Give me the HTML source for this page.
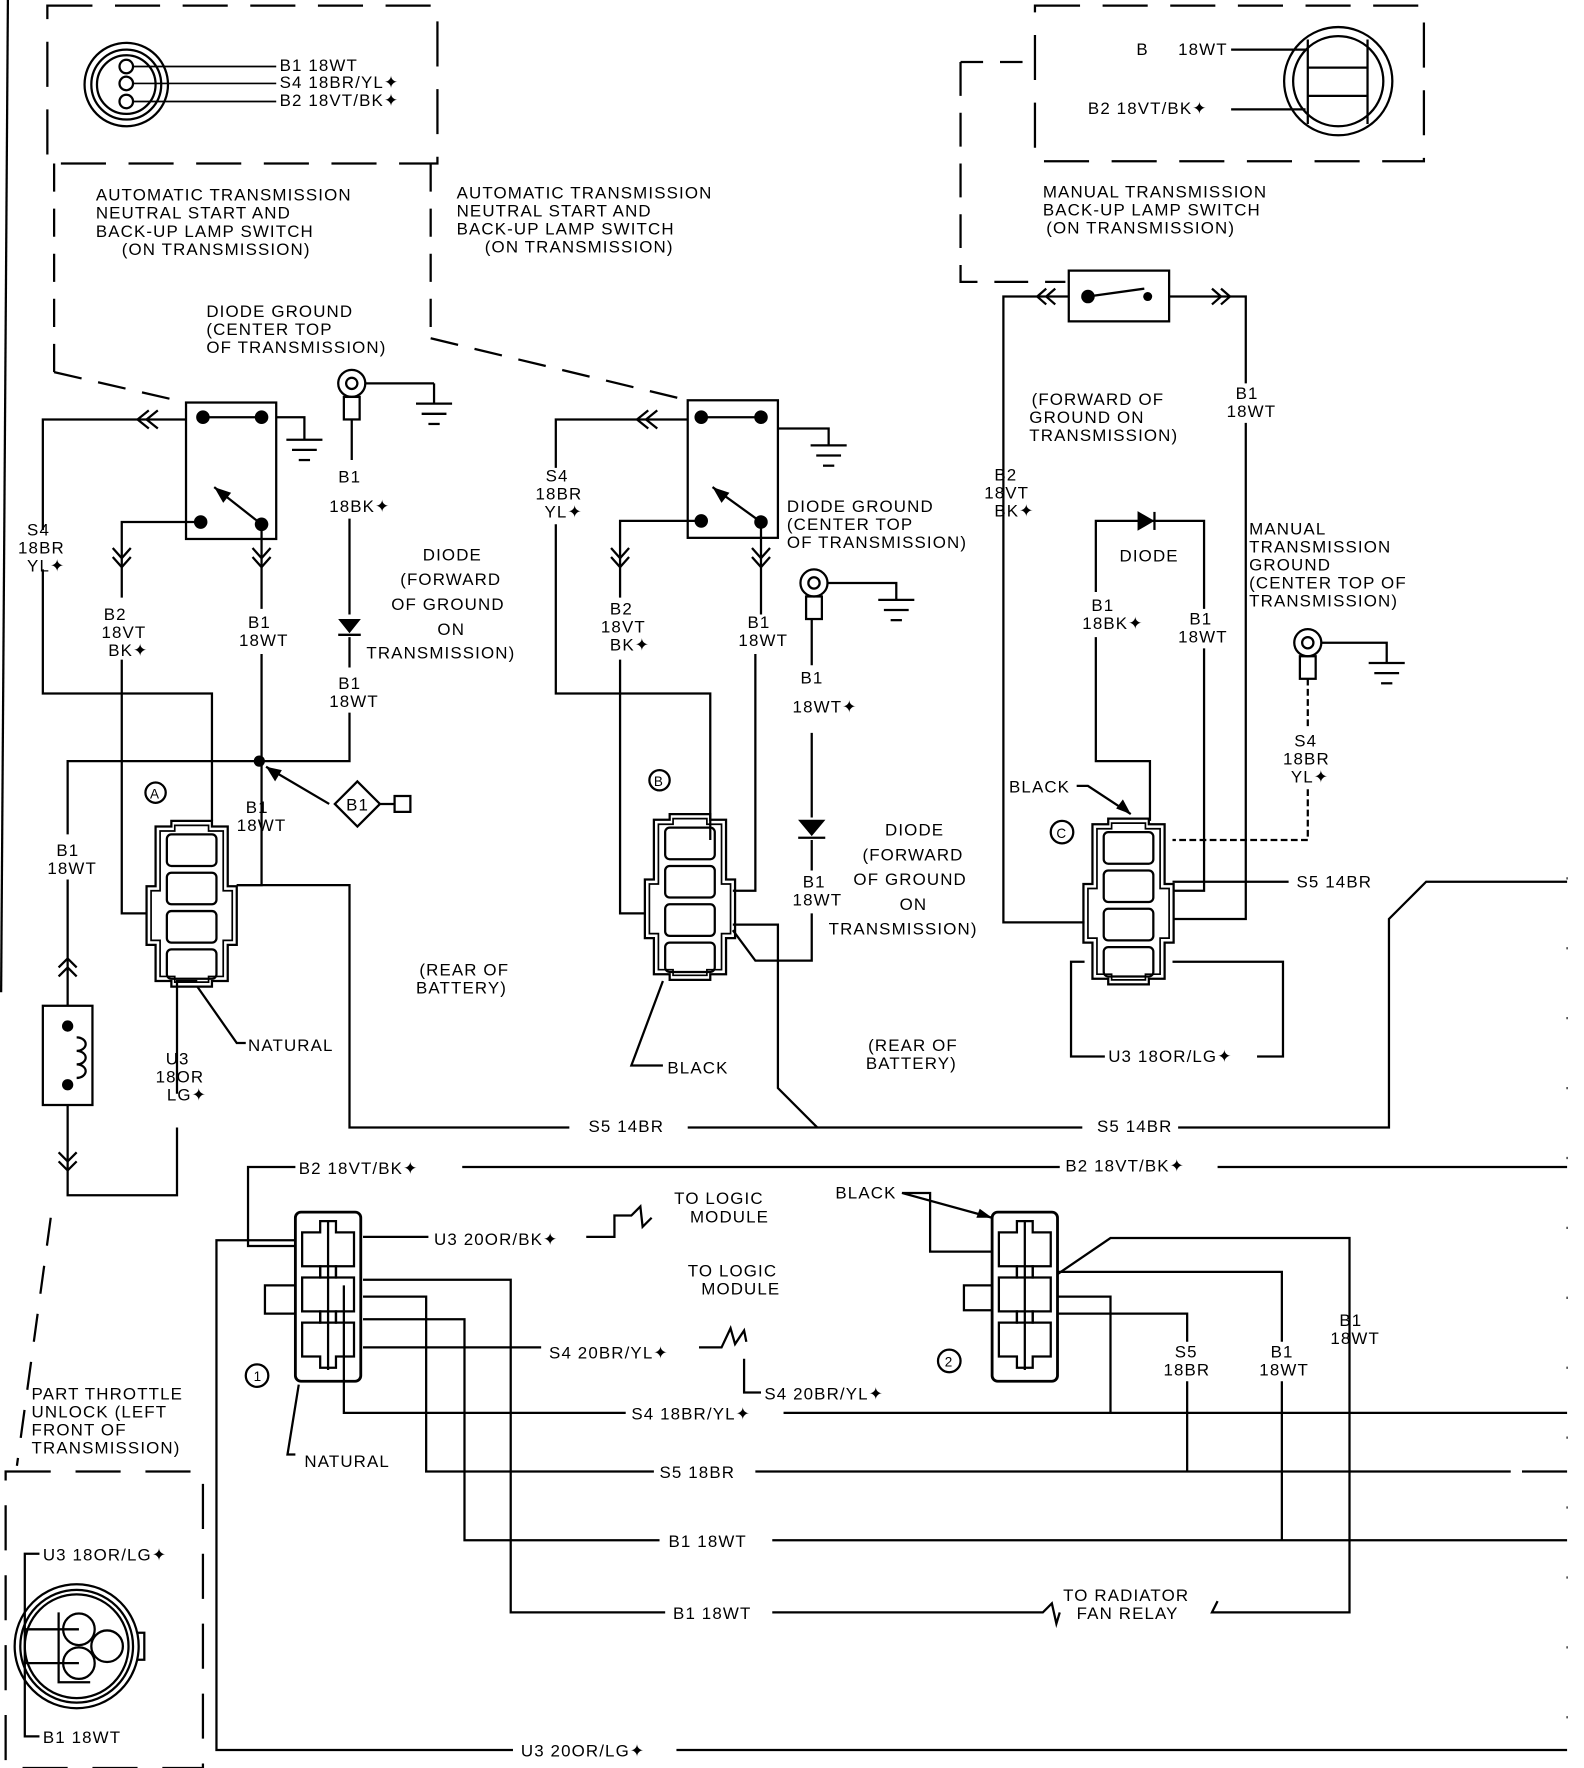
<!DOCTYPE html>
<html><head><meta charset="utf-8">
<style>
html,body{margin:0;padding:0;background:#fff}
svg{display:block}
text{font-family:"Liberation Sans",sans-serif;font-size:15px;fill:#000;letter-spacing:1px}
</style></head><body>
<svg width="1584" height="1768" viewBox="0 0 1405 1568" preserveAspectRatio="none" xmlns="http://www.w3.org/2000/svg">
<defs>
<g id="conn4">
 <path d="M22,0 H58 V5 H72 V58 H80 V110 H72 V142 H58 V147 H22 V142 H8 V110 H0 V58 H8 V5 H22 Z" fill="none" stroke="#000" stroke-width="2"/>
 <path d="M25,4 H55 V9 H68 V62 H76 V106 H68 V138 H55 V143 H25 V138 H12 V106 H4 V62 H12 V9 H25 Z" fill="none" stroke="#000" stroke-width="1.5"/>
 <rect x="18" y="12" width="44" height="28" rx="4" fill="none" stroke="#000" stroke-width="2"/>
 <rect x="18" y="46" width="44" height="28" rx="4" fill="none" stroke="#000" stroke-width="2"/>
 <rect x="18" y="80" width="44" height="28" rx="4" fill="none" stroke="#000" stroke-width="2"/>
 <rect x="18" y="114" width="44" height="26" rx="4" fill="none" stroke="#000" stroke-width="2"/>
</g>
<g id="conn8">
 <rect x="0" y="0" width="58" height="150" rx="5" fill="none" stroke="#000" stroke-width="2.5"/>
 <g fill="none" stroke="#000" stroke-width="2">
 <path d="M6,18 H22 V8 H36 V18 H52 V48 H36 V58 H22 V48 H6 Z"/>
 <path d="M6,58 H22 V48 H36 V58 H52 V88 H36 V98 H22 V88 H6 Z"/>
 <path d="M6,98 H22 V88 H36 V98 H52 V128 H36 V138 H22 V128 H6 Z"/>
 <line x1="29" y1="8" x2="29" y2="140"/>
 </g>
</g>
<g id="gnd" stroke="#000" stroke-width="2" fill="none"><line x1="-16" y1="0" x2="16" y2="0"/><line x1="-11" y1="9" x2="11" y2="9"/><line x1="-5" y1="18" x2="5" y2="18"/></g>
</defs>

<g fill="none" stroke="#000" stroke-width="2">
<line x1="7" y1="0" x2="1" y2="880"/>
<path d="M42,5 H388 V145 H42 Z" stroke-dasharray="40,20"/>
<line x1="48" y1="145" x2="48" y2="330" stroke-dasharray="25,15"/>
<line x1="48" y1="330" x2="165" y2="357" stroke-dasharray="25,15"/>
<line x1="382" y1="145" x2="382" y2="300" stroke-dasharray="25,15"/>
<line x1="382" y1="300" x2="610" y2="355" stroke-dasharray="25,15"/>
<circle cx="112" cy="75" r="37"/><circle cx="112" cy="75" r="31"/><circle cx="112" cy="75" r="26"/>
<circle cx="112" cy="59" r="6"/><circle cx="112" cy="74" r="6"/><circle cx="112" cy="90" r="6"/>
<path d="M118,59 H245 M118,74 H245 M118,90 H245" stroke-width="1.5"/>

<rect x="165" y="357" width="80" height="121"/>
<path d="M180,370 H232"/>
<line x1="232" y1="465" x2="190" y2="432"/>
<path d="M245,370 H270 V390"/>
<path d="M165,372 H38 V470 M38,505 V615 H188 V728"/>
<path d="M132,364 L122,372 L132,380 M140,364 L130,372 L140,380"/>
<path d="M178,463 H108 V530 M108,585 V810 H130"/>
<path d="M100,486 L108,495 L116,486 M100,494 L108,503 L116,494"/>
<path d="M232,465 V540 M232,580 V785 H210"/>
<path d="M224,486 L232,495 L240,486 M224,494 L232,503 L240,494"/>
<circle cx="312" cy="340" r="12"/><circle cx="312" cy="340" r="5"/>
<line x1="324" y1="340" x2="385" y2="340"/><line x1="385" y1="340" x2="385" y2="358"/>
<rect x="305" y="352" width="14" height="20"/>
<path d="M312,372 V408 M310,460 V545 M310,565 V592 M310,632 V675 H60 V740 M60,780 V892"/>
<path d="M302,550 H318 L310,560 Z" fill="#000"/><line x1="300" y1="563" x2="320" y2="563"/>
<path d="M292,713 L236,680"/>
<path d="M317,693 L337,713 L317,733 L297,713 Z"/>
<path d="M337,713 H350 M350,706 H364 V720 H350 Z"/>
<path d="M52,858 L60,850 L68,858 M52,866 L60,858 L68,866"/>
<rect x="38" y="892" width="44" height="88"/>
<path d="M60,980 V1060 H157 V1000 M157,970 V870 H175"/>
<path d="M52,1022 L60,1030 L68,1022 M52,1030 L60,1038 L68,1030"/>
<path d="M68,920 a8,6 0 1 1 0,12 a8,6 0 1 1 0,12 a8,6 0 1 1 0,12"/>
<path d="M210,785 H310 V1000 H505 M610,1000 H960 M1045,1000 H1232 V815 L1265,782 H1390"/>
<path d="M175,875 L210,925 H218"/>

<rect x="610" y="355" width="80" height="122"/>
<path d="M622,370 H675"/>
<line x1="675" y1="463" x2="632" y2="432"/>
<path d="M690,380 H735 V395"/>
<path d="M610,372 H493 V415 M493,465 V615 H630 V745"/>
<path d="M575,364 L565,372 L575,380 M583,364 L573,372 L583,380"/>
<path d="M622,462 H550 V530 M550,585 V810 H573"/>
<path d="M542,486 L550,495 L558,486 M542,494 L550,503 L558,494"/>
<path d="M675,463 V545 M670,580 V790 H650"/>
<path d="M667,486 L675,495 L683,486 M667,494 L675,503 L683,494"/>
<circle cx="722" cy="517" r="12"/><circle cx="722" cy="517" r="5"/>
<path d="M734,517 H795 V532"/>
<rect x="715" y="529" width="14" height="20"/>
<path d="M720,549 V590 M720,650 V725 M720,745 V772 M720,810 V852 H670 L650,825"/>
<path d="M710,728 H730 L720,740 Z" fill="#000"/><line x1="708" y1="743" x2="732" y2="743"/>
<path d="M650,820 H690 V965 L725,1000"/>
<path d="M588,870 L560,945 H588"/>

<path d="M918,5 H1263 V143 H918 Z" stroke-dasharray="40,20"/>
<path d="M852,55 H918" stroke-dasharray="20,15"/>
<path d="M852,55 V250 H945" stroke-dasharray="30,15"/>
<circle cx="1187" cy="72" r="48"/><circle cx="1187" cy="72" r="40"/>
<path d="M1160,35 V110 M1213,35 V110 M1160,60 H1213 M1160,85 H1213"/>
<path d="M1092,44 H1158 M1092,97 H1158"/>
<rect x="948" y="240" width="89" height="45"/>
<path d="M965,263 L1015,256"/>
<path d="M948,263 H890 V818 H962"/>
<path d="M928,256 L920,263 L928,270 M936,256 L928,263 L936,270"/>
<path d="M1037,263 H1105 V340 M1105,375 V815 H1040"/>
<path d="M1075,256 L1083,263 L1075,270 M1083,256 L1091,263 L1083,270"/>
<path d="M972,525 V462 H1068 V540 M1068,575 V790 H1040"/>
<path d="M1010,455 V469 L1022,462 Z" fill="#000"/><line x1="1024" y1="454" x2="1024" y2="470"/>
<path d="M972,565 V675 H1020 V728"/>
<circle cx="1160" cy="570" r="12"/><circle cx="1160" cy="570" r="5"/>
<path d="M1172,570 H1230 V588"/>
<rect x="1153" y="582" width="14" height="20"/>
<path d="M1160,602 V645 M1160,700 V745 H1040" stroke-dasharray="6,3"/>
<path d="M955,697 H965 L1003,722"/>
<path d="M1040,782 H1143"/>
<path d="M1040,853 H1138 V937 H1115 M980,937 H950 V853 H962"/>
<line x1="1390" y1="778" x2="1390" y2="1568" stroke-width="1" stroke-dasharray="2,60"/>

<path d="M262,1035 H220 V1105 H262 M410,1035 H940 M1080,1035 H1390"/>
<path d="M322,1097 H380 M520,1097 H545 V1078 H560 L568,1070 L570,1088 L578,1080"/>
<path d="M322,1195 H480 M620,1195 H640 L648,1178 L652,1192 L660,1180 L662,1190 M660,1205 V1235 H675"/>
<path d="M305,1140 V1253 H555 M695,1253 H1390"/>
<path d="M322,1150 H378 V1305 H580 M670,1305 H1340 M1350,1305 H1390"/>
<path d="M322,1170 H412 V1366 H585 M685,1366 H1390"/>
<path d="M322,1135 H453 V1430 H590 M685,1430 H925 L933,1422 L937,1440 L940,1430 M1080,1420 L1075,1430 H1197 V1098 H985 L938,1130"/>
<path d="M262,1100 H192 V1552 H455 M600,1552 H1390"/>
<path d="M262,1140 H235 V1165 H262"/>
<path d="M265,1228 L255,1290 H262"/>
<path d="M880,1110 H825 V1058 H800 M800,1058 L880,1080"/>
<path d="M938,1150 H985 V1253"/>
<path d="M938,1165 H1053 V1190 M1053,1225 V1305"/>
<path d="M938,1128 H1137 V1190 M1137,1225 V1366"/>
<path d="M880,1140 H855 V1162 H880"/>

<line x1="45" y1="1080" x2="15" y2="1300" stroke-dasharray="25,18"/>
<path d="M5,1305 H180 V1568 H5 Z" stroke-dasharray="40,22"/>
<circle cx="68" cy="1460" r="55"/><circle cx="68" cy="1460" r="50"/><circle cx="68" cy="1460" r="46"/>
<circle cx="70" cy="1445" r="14"/><circle cx="70" cy="1475" r="14"/><circle cx="95" cy="1460" r="14"/>
<path d="M52,1430 V1492 H80"/>
<path d="M122,1448 H128 V1472 H122"/>
<path d="M35,1378 H22 V1540 H35 M22,1445 H70 M22,1475 H70"/>
</g>

<use href="#gnd" x="270" y="390"/>
<use href="#gnd" x="385" y="358"/>
<use href="#gnd" x="735" y="395"/>
<use href="#gnd" x="795" y="532"/>
<use href="#gnd" x="1230" y="588"/>

<g fill="#000">
<circle cx="180" cy="370" r="6"/><circle cx="232" cy="370" r="6"/><circle cx="178" cy="463" r="6"/><circle cx="232" cy="465" r="6"/>
<circle cx="622" cy="370" r="6"/><circle cx="675" cy="370" r="6"/><circle cx="622" cy="462" r="6"/><circle cx="675" cy="463" r="6"/>
<circle cx="965" cy="263" r="6"/><circle cx="1018" cy="263" r="4"/>
<circle cx="230" cy="675" r="5"/>
<circle cx="60" cy="910" r="5"/><circle cx="60" cy="962" r="5"/>
<path d="M236,680 L250,683 L244,693 Z"/>
<path d="M1003,722 L990,717 L996,709 Z"/>
<path d="M880,1080 L866,1080 L869,1072 Z"/>
<path d="M190,432 L205,437 L198,446 Z"/>
<path d="M632,432 L647,437 L640,446 Z"/>
</g>

<use href="#conn4" x="130" y="728"/>
<use href="#conn4" x="572" y="722"/>
<use href="#conn4" x="961" y="726"/>
<use href="#conn8" x="262" y="1075"/>
<use href="#conn8" x="880" y="1075"/>

<g fill="none" stroke="#000" stroke-width="2">
<circle cx="138" cy="703" r="9"/><circle cx="585" cy="692" r="9"/><circle cx="942" cy="738" r="10"/>
<circle cx="228" cy="1220" r="10"/><circle cx="842" cy="1207" r="10"/>
</g>
<text x="133" y="708" style="font-size:12px">A</text><text x="580" y="697" style="font-size:12px">B</text><text x="937" y="743" style="font-size:12px">C</text>
<text x="225" y="1225" style="font-size:12px">1</text><text x="838" y="1212" style="font-size:12px">2</text>

<text x="248" y="63">B1 18WT</text>
<text x="248" y="78">S4 18BR/YL✦</text>
<text x="248" y="94">B2 18VT/BK✦</text>
<text x="85" y="178">AUTOMATIC TRANSMISSION</text>
<text x="85" y="194">NEUTRAL START AND</text>
<text x="85" y="210">BACK-UP LAMP SWITCH</text>
<text x="108" y="226">(ON TRANSMISSION)</text>
<text x="405" y="176">AUTOMATIC TRANSMISSION</text>
<text x="405" y="192">NEUTRAL START AND</text>
<text x="405" y="208">BACK-UP LAMP SWITCH</text>
<text x="430" y="224">(ON TRANSMISSION)</text>
<text x="183" y="281">DIODE GROUND</text>
<text x="183" y="297">(CENTER TOP</text>
<text x="183" y="313">OF TRANSMISSION)</text>
<text x="24" y="475">S4</text><text x="16" y="491">18BR</text><text x="24" y="507">YL✦</text>
<text x="92" y="550">B2</text><text x="90" y="566">18VT</text><text x="96" y="582">BK✦</text>
<text x="220" y="557">B1</text><text x="212" y="573">18WT</text>
<text x="300" y="428">B1</text><text x="292" y="454">18BK✦</text>
<text x="375" y="497">DIODE</text><text x="355" y="519">(FORWARD</text><text x="347" y="541">OF GROUND</text><text x="388" y="563">ON</text><text x="325" y="584">TRANSMISSION)</text>
<text x="300" y="611">B1</text><text x="292" y="627">18WT</text>
<text x="307" y="719">B1</text>
<text x="218" y="721">B1</text><text x="210" y="737">18WT</text>
<text x="50" y="759">B1</text><text x="42" y="775">18WT</text>
<text x="147" y="944">U3</text><text x="138" y="960">18OR</text><text x="148" y="976">LG✦</text>
<text x="220" y="932">NATURAL</text>
<text x="372" y="865">(REAR OF</text><text x="369" y="881">BATTERY)</text>
<text x="522" y="1004">S5 14BR</text>
<text x="973" y="1004">S5 14BR</text>
<text x="484" y="427">S4</text><text x="475" y="443">18BR</text><text x="483" y="459">YL✦</text>
<text x="541" y="545">B2</text><text x="533" y="561">18VT</text><text x="541" y="577">BK✦</text>
<text x="663" y="557">B1</text><text x="655" y="573">18WT</text>
<text x="698" y="454">DIODE GROUND</text><text x="698" y="470">(CENTER TOP</text><text x="698" y="486">OF TRANSMISSION)</text>
<text x="710" y="606">B1</text><text x="703" y="632">18WT✦</text>
<text x="785" y="741">DIODE</text><text x="765" y="763">(FORWARD</text><text x="757" y="785">OF GROUND</text><text x="798" y="807">ON</text><text x="735" y="829">TRANSMISSION)</text>
<text x="712" y="787">B1</text><text x="703" y="803">18WT</text>
<text x="592" y="952">BLACK</text>
<text x="770" y="932">(REAR OF</text><text x="768" y="948">BATTERY)</text>
<text x="1008" y="49">B</text><text x="1045" y="49">18WT</text>
<text x="965" y="101">B2 18VT/BK✦</text>
<text x="925" y="175">MANUAL TRANSMISSION</text>
<text x="925" y="191">BACK-UP LAMP SWITCH</text>
<text x="928" y="207">(ON TRANSMISSION)</text>
<text x="915" y="359">(FORWARD OF</text><text x="913" y="375">GROUND ON</text><text x="913" y="391">TRANSMISSION)</text>
<text x="1096" y="354">B1</text><text x="1088" y="370">18WT</text>
<text x="882" y="426">B2</text><text x="873" y="442">18VT</text><text x="882" y="458">BK✦</text>
<text x="993" y="498">DIODE</text>
<text x="968" y="542">B1</text><text x="960" y="558">18BK✦</text>
<text x="1055" y="554">B1</text><text x="1045" y="570">18WT</text>
<text x="1108" y="474">MANUAL</text><text x="1108" y="490">TRANSMISSION</text><text x="1108" y="506">GROUND</text><text x="1108" y="522">(CENTER TOP OF</text><text x="1108" y="538">TRANSMISSION)</text>
<text x="1148" y="662">S4</text><text x="1138" y="678">18BR</text><text x="1145" y="694">YL✦</text>
<text x="895" y="703">BLACK</text>
<text x="1150" y="787">S5 14BR</text>
<text x="983" y="942">U3 18OR/LG✦</text>
<text x="265" y="1041">B2 18VT/BK✦</text>
<text x="945" y="1039">B2 18VT/BK✦</text>
<text x="385" y="1104">U3 20OR/BK✦</text>
<text x="598" y="1068">TO LOGIC</text><text x="612" y="1084">MODULE</text>
<text x="610" y="1132">TO LOGIC</text><text x="622" y="1148">MODULE</text>
<text x="741" y="1063">BLACK</text>
<text x="487" y="1205">S4 20BR/YL✦</text>
<text x="678" y="1241">S4 20BR/YL✦</text>
<text x="560" y="1259">S4 18BR/YL✦</text>
<text x="585" y="1311">S5 18BR</text>
<text x="593" y="1372">B1 18WT</text>
<text x="597" y="1436">B1 18WT</text>
<text x="943" y="1420">TO RADIATOR</text><text x="955" y="1436">FAN RELAY</text>
<text x="462" y="1558">U3 20OR/LG✦</text>
<text x="1042" y="1204">S5</text><text x="1032" y="1220">18BR</text>
<text x="1127" y="1204">B1</text><text x="1117" y="1220">18WT</text>
<text x="1188" y="1176">B1</text><text x="1180" y="1192">18WT</text>
<text x="270" y="1301">NATURAL</text>
<text x="28" y="1241">PART THROTTLE</text><text x="28" y="1257">UNLOCK (LEFT</text><text x="28" y="1273">FRONT OF</text><text x="28" y="1289">TRANSMISSION)</text>
<text x="38" y="1384">U3 18OR/LG✦</text>
<text x="38" y="1546">B1 18WT</text>
</svg>
</body></html>
